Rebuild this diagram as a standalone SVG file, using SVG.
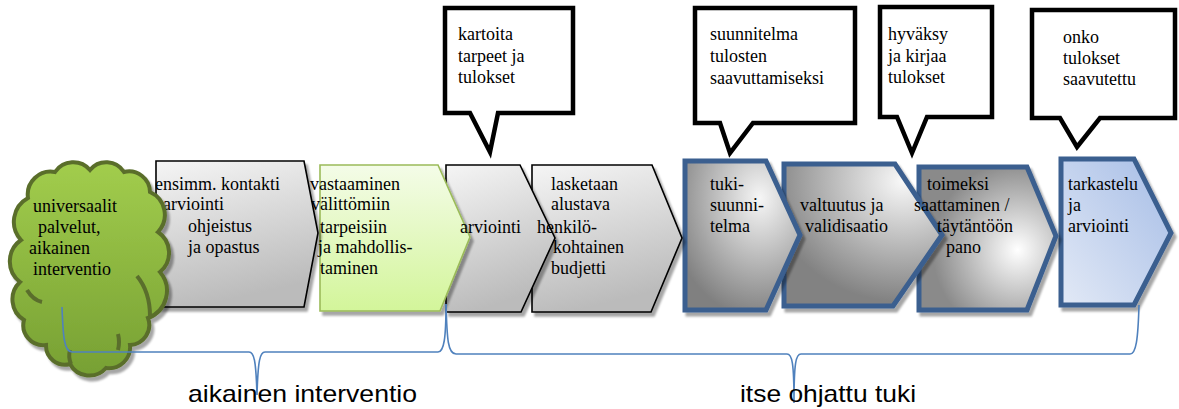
<svg xmlns="http://www.w3.org/2000/svg" width="1179" height="409" viewBox="0 0 1179 409">
<style>
.t{font-family:"Liberation Serif","Times New Roman",serif;font-size:18px;fill:#000}
.b{font-family:"Liberation Sans",Arial,sans-serif;font-size:24px;fill:#000}
.gray{fill:url(#gGray);stroke:#000;stroke-width:1.6}
.blue{stroke:#3b5f8f;stroke-width:5;stroke-linejoin:miter}
.call{fill:#fff;stroke:#000;stroke-width:4.5;stroke-linejoin:miter}
.br{fill:none;stroke:#4f81bd;stroke-width:1.6}
</style>
<defs>
<filter id="sh" x="-10%" y="-10%" width="130%" height="130%">
<feDropShadow dx="3" dy="4" stdDeviation="1.2" flood-color="#000" flood-opacity="0.35"/>
</filter>
<linearGradient id="gGray" x1="0" y1="0" x2="0.25" y2="1">
<stop offset="0" stop-color="#f5f5f5"/><stop offset="1" stop-color="#bbbbbb"/>
</linearGradient>
<linearGradient id="gGreen" x1="0" y1="0" x2="0" y2="1">
<stop offset="0" stop-color="#f4fce8"/><stop offset="1" stop-color="#d3f59a"/>
</linearGradient>
<linearGradient id="gCloud" x1="0" y1="0" x2="0" y2="1">
<stop offset="0" stop-color="#a2cd4d"/><stop offset="1" stop-color="#77a033"/>
</linearGradient>
<radialGradient id="g5" cx="0.65" cy="0.25" r="0.8">
<stop offset="0" stop-color="#f6f6f6"/><stop offset="1" stop-color="#808080"/>
</radialGradient>
<radialGradient id="g6" cx="0.75" cy="0.12" r="0.85">
<stop offset="0" stop-color="#f8f8f8"/><stop offset="1" stop-color="#828282"/>
</radialGradient>
<radialGradient id="g7" cx="0.72" cy="0.58" r="0.62">
<stop offset="0" stop-color="#ffffff"/><stop offset="1" stop-color="#8a8a8a"/>
</radialGradient>
<linearGradient id="g8" x1="0" y1="1" x2="1" y2="0">
<stop offset="0" stop-color="#e2e9f6"/><stop offset="1" stop-color="#a6bde6"/>
</linearGradient>
</defs>

<g id="n8" filter="url(#sh)"><polygon class="blue" fill="url(#g8)" points="1061,159 1134,159 1171,233 1134,305 1061,305"/></g>
<g id="n7" filter="url(#sh)"><polygon class="blue" fill="url(#g7)" points="919,167 1027,167 1056,236 1027,310 919,310"/></g>
<g id="n6" filter="url(#sh)"><polygon class="blue" fill="url(#g6)" points="784,164 895,164 942,235 893,306 784,306"/></g>
<g id="n5" filter="url(#sh)"><polygon class="blue" fill="url(#g5)" points="685,161 766,161 800,235 766,310 685,310"/></g>
<g id="n4" filter="url(#sh)"><polygon class="gray" points="532,165 652,165 682,238 651,312 532,312"/></g>
<g id="n3" filter="url(#sh)"><polygon class="gray" points="446,165 520,165 555,238 521,312 446,312"/></g>
<g id="n2" filter="url(#sh)"><polygon fill="url(#gGreen)" stroke="#9bbb59" stroke-width="1.6" points="320,165 438,165 470,237 440,311 320,311"/></g>
<g id="n1" filter="url(#sh)"><polygon class="gray" points="156,161 304,161 318,233 304,307 156,307"/></g>

<g id="labels">
<g id="n1-label"><text class="t" x="155" y="190">ensimm. kontakti</text><text class="t" x="163" y="210">arviointi</text><text class="t" x="188" y="232">ohjeistus</text><text class="t" x="188" y="253">ja opastus</text></g>
<g id="n2-label"><text class="t" x="310" y="190">vastaaminen</text><text class="t" x="311" y="210">välittömiin</text><text class="t" x="320" y="233">tarpeisiin</text><text class="t" x="318" y="253">ja mahdollis-</text><text class="t" x="320" y="274">taminen</text></g>
<g id="n3-label"><text class="t" x="460" y="233">arviointi</text></g>
<g id="n4-label"><text class="t" x="551" y="190">lasketaan</text><text class="t" x="551" y="210">alustava</text><text class="t" x="537" y="233">henkilö-</text><text class="t" x="553" y="253">kohtainen</text><text class="t" x="551" y="274">budjetti</text></g>
<g id="n5-label"><text class="t" x="710" y="190">tuki-</text><text class="t" x="710" y="211">suunni-</text><text class="t" x="710" y="232">telma</text></g>
<g id="n6-label"><text class="t" x="800" y="211">valtuutus ja</text><text class="t" x="805" y="232">validisaatio</text></g>
<g id="n7-label"><text class="t" x="927" y="190">toimeksi</text><text class="t" x="914" y="211">saattaminen /</text><text class="t" x="937" y="232">täytäntöön</text><text class="t" x="946" y="253">pano</text></g>
<g id="n8-label"><text class="t" x="1068" y="190">tarkastelu</text><text class="t" x="1068" y="211">ja</text><text class="t" x="1068" y="232">arviointi</text></g>
</g>

<g id="n0">
<path filter="url(#sh)" fill="url(#gCloud)" stroke="#5a6e2c" stroke-width="4" d="M28,198 A23,23 0 0 1 55,172 A22,22 0 0 1 90,170 A21,21 0 0 1 124,172 A21,21 0 0 1 150,192 A25,25 0 0 1 158,232 A25,25 0 0 1 160,272 A29,29 0 0 1 148,318 A20,20 0 0 1 130,345 A21,21 0 0 1 106,368 A22,22 0 0 1 70,364 A19,19 0 0 1 46,345 A20,20 0 0 1 24,320 A24,24 0 0 1 20,282 A26,26 0 0 1 21,240 A27,27 0 0 1 28,198 Z"/>
<path fill="none" stroke="#5a6e2c" stroke-width="4" d="M137,276 Q150,292 150,316 M118,334 Q120,342 118,350 M70,350 Q68,357 71,364 M27,290 Q33,300 42,302"/>
<text class="t" x="33" y="212">universaalit</text><text class="t" x="38" y="233">palvelut,</text><text class="t" x="29" y="254">aikainen</text><text class="t" x="33" y="275">interventio</text>
</g>

<g id="c1"><path class="call" d="M445,8 H573 V113 H498 L490,152 L470,113 H445 Z"/>
<text class="t" x="458" y="40">kartoita</text><text class="t" x="458" y="62">tarpeet  ja</text><text class="t" x="458" y="83">tulokset</text></g>
<g id="c2"><path class="call" d="M695,8 H855 V123 H753 L730,153 L720,123 H695 Z"/>
<text class="t" x="710" y="40">suunnitelma</text><text class="t" x="710" y="62">tulosten</text><text class="t" x="710" y="84">saavuttamiseksi</text></g>
<g id="c3"><path class="call" d="M880,7 H992 V117 H927 L912,153 L897,117 H880 Z"/>
<text class="t" x="888" y="40">hyväksy</text><text class="t" x="888" y="62">ja kirjaa</text><text class="t" x="888" y="83">tulokset</text></g>
<g id="c4"><path class="call" d="M1032,10 H1175 V118 H1100 L1077,147 L1060,118 H1032 Z"/>
<text class="t" x="1063" y="43">onko</text><text class="t" x="1063" y="64">tulokset</text><text class="t" x="1063" y="85">saavutettu</text></g>

<g id="connectors">
<path class="br" d="M62,307 C63,335 64,352 72,352 H249 C254,352 256,360 257,395 C258,360 260,352 265,352 H438 C444,352 446,338 446,304"/>
<path class="br" d="M446,304 C447,340 448,354 456,354 H787 C792,354 794,362 794,403 C794,362 796,354 801,354 H1130 C1136,354 1138,340 1139,305"/>
</g>
<g id="bracket-labels">
<text class="b" x="188" y="402" textLength="229" lengthAdjust="spacingAndGlyphs">aikainen interventio</text>
<text class="b" x="740" y="402" textLength="176" lengthAdjust="spacingAndGlyphs">itse ohjattu tuki</text>
</g>
</svg>
